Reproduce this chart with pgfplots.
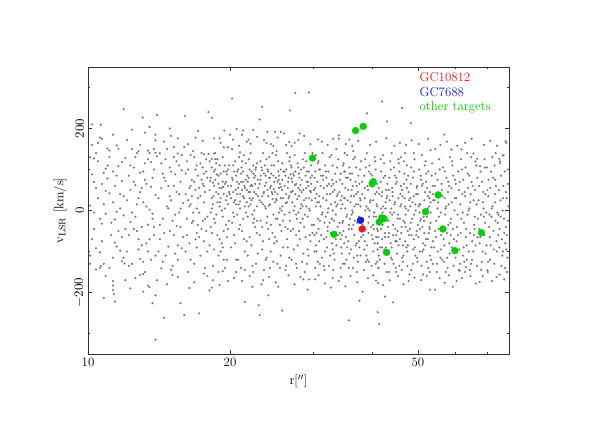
\documentclass[border=0pt]{standalone}
\usepackage{pgfplots}
\pgfplotsset{compat=1.18}
\definecolor{dotgray}{RGB}{120,120,120}
\definecolor{tgreen}{RGB}{0,205,0}
\definecolor{tblue}{RGB}{20,20,240}
\definecolor{tred}{RGB}{250,20,20}
\begin{document}
\begin{tikzpicture}
\useasboundingbox (-2.64,-2.07) rectangle (15.3,10.62);
\begin{axis}[
  at={(0,0)}, anchor=south west,
  scale only axis, width=12.63cm, height=8.61cm,
  xmode=log, xmin=10, xmax=78, ymin=-350, ymax=350,
  xtick={10,20,50}, xticklabels={10,20,50},
  minor xtick={30,40,60,70},
  ytick={-200,0,200}, minor ytick={-300,-100,100,300},
  tick align=inside, major tick length=0.13cm, minor tick length=0.07cm,
  axis line style={black!80}, every tick/.style={black!80},
  tick label style={font=\fontsize{11}{13}\selectfont},
  yticklabel style={rotate=90, anchor=south},
  label style={font=\fontsize{11}{13}\selectfont},
  xlabel={r[$^{\prime\prime}$]},
  ylabel={v$_{\rm LSR}$ [km/s]},
]
% field stars, band
\addplot[only marks, mark=*, mark size=0.7pt, dotgray] coordinates {
(10.1,12)(10.3,-45)(10.2,88)(10.4,140)(10.6,-102)(10.5,30)(10.7,65)(10.9,-8)(10.8,-130)(11.0,110)(11.2,-60)(11.1,42)(11.3,95)(11.4,-22)(11.6,150)(11.5,-88)(11.7,5)(11.8,72)(11.9,-115)(12.0,128)(10.2,-70)(10.4,55)(10.6,-20)(10.9,102)(11.1,-140)(11.3,20)(11.6,-50)(11.8,118)(10.3,-5)(10.7,-75)(11.0,78)(11.4,60)(11.7,-98)(11.9,35)(10.1,-110)(10.5,120)(10.8,15)(11.2,-30)(11.5,85)(11.8,-65)(10.3,70)(10.6,-140)(10.9,48)(11.3,-115)(11.6,108)(11.9,-12)(10.2,160)(10.7,-32)(11.1,130)(11.4,-78)(11.7,40)(12.0,-45)(10.4,-92)(10.8,92)(11.5,-3)
(12.1,25)(12.2,-60)(12.3,110)(12.4,-130)(12.5,70)(12.6,-15)(12.7,140)(12.8,-95)(12.9,45)(13.0,-40)(13.1,95)(13.2,-150)(13.3,10)(13.4,125)(13.5,-70)(13.6,58)(13.7,-20)(13.8,100)(13.9,-110)(12.2,85)(12.4,-5)(12.6,130)(12.8,30)(13.0,-85)(13.2,75)(13.4,-35)(13.6,118)(13.8,-60)(12.1,-100)(12.3,50)(12.5,-45)(12.7,15)(12.9,92)(13.1,-125)(13.3,65)(13.5,140)(13.7,-8)(13.9,38)(12.2,-135)(12.5,105)(12.8,-70)(13.1,20)(13.4,-100)(13.7,80)(12.3,-28)(12.6,62)(12.9,-118)(13.2,115)(13.5,2)(13.8,-40)(12.4,150)(12.7,-50)(13.0,55)(13.3,-80)(13.6,-120)
(14.1,30)(14.2,-70)(14.3,115)(14.4,-20)(14.5,80)(14.6,-110)(14.7,150)(14.8,5)(14.9,-50)(15.0,95)(15.1,-135)(15.2,60)(15.3,-10)(15.4,120)(15.5,-85)(15.6,40)(15.7,-40)(15.8,135)(15.9,18)(14.1,-100)(14.3,55)(14.5,-55)(14.7,10)(14.9,105)(15.1,-25)(15.3,88)(15.5,-120)(15.7,70)(15.9,-65)(14.2,140)(14.4,-125)(14.6,72)(14.8,-88)(15.0,25)(15.2,-60)(15.4,45)(15.6,-5)(15.8,98)(14.2,-35)(14.6,125)(15.0,-145)(15.4,-38)(15.8,-92)(14.4,90)(14.8,60)(15.2,130)(15.6,110)(14.9,35)(15.7,5)(15.3,-105)
(16.1,40)(16.2,-60)(16.3,100)(16.4,10)(16.5,-120)(16.6,75)(16.7,-25)(16.8,130)(16.9,50)(17.0,-90)(17.1,85)(17.2,-5)(17.3,115)(17.4,-45)(17.5,65)(17.6,20)(17.7,-140)(17.8,95)(17.9,-15)(16.1,-100)(16.3,25)(16.5,60)(16.7,145)(16.9,-70)(17.1,30)(17.3,-110)(17.5,105)(17.7,45)(17.9,80)(16.2,120)(16.4,-80)(16.6,-30)(16.8,70)(17.0,5)(17.2,55)(17.4,140)(17.6,-75)(17.8,-50)(16.1,90)(16.4,55)(16.7,-5)(17.0,110)(17.3,35)(17.6,90)(17.9,-100)(16.2,-20)(16.5,15)(16.8,-130)(17.1,-35)(17.4,75)(17.7,-20)(16.3,-150)(16.6,35)(16.9,100)(17.2,-65)(17.5,-25)(17.8,125)(16.5,135)(17.0,-55)(17.6,60)
(18.1,50)(18.2,-40)(18.3,105)(18.4,15)(18.5,-95)(18.6,75)(18.7,-10)(18.8,125)(18.9,40)(19.0,-70)(19.1,90)(19.2,0)(19.3,130)(19.4,-50)(19.5,65)(19.6,25)(19.7,-120)(19.8,100)(19.9,-25)(18.1,-85)(18.2,80)(18.3,30)(18.4,-135)(18.5,60)(18.6,-30)(18.7,115)(18.8,-60)(18.9,85)(19.0,10)(19.1,-100)(19.2,55)(19.3,-15)(19.4,95)(19.5,-140)(19.6,70)(19.7,35)(19.8,-45)(19.9,110)(18.1,120)(18.3,-55)(18.5,95)(18.7,45)(18.9,-110)(19.1,30)(19.3,70)(19.5,5)(19.7,-65)(19.9,45)(18.2,-5)(18.4,68)(18.6,140)(18.8,20)(19.0,110)(19.2,-80)(19.4,40)(19.6,-35)(19.8,60)(18.5,-20)(18.9,-150)(19.3,-90)(19.7,88)(18.6,100)(19.0,55)(19.4,-120)(19.8,15)
(20.1,60)(20.2,-30)(20.3,110)(20.4,20)(20.5,-80)(20.6,85)(20.7,40)(20.8,-120)(20.9,130)(21.0,5)(21.1,70)(21.2,-50)(21.3,95)(21.4,30)(21.5,-100)(21.6,115)(21.7,50)(21.8,-15)(21.9,80)(22.0,-65)(22.1,140)(22.2,25)(22.3,-135)(22.4,90)(22.5,45)(22.6,-40)(22.7,105)(22.8,10)(22.9,75)(20.1,-90)(20.3,45)(20.5,120)(20.7,-10)(20.9,65)(21.1,-140)(21.3,35)(21.5,55)(21.7,-75)(21.9,125)(22.1,15)(22.3,60)(22.5,-20)(22.7,40)(22.9,-105)(20.2,80)(20.4,-60)(20.6,15)(20.8,100)(21.0,-35)(21.2,50)(21.4,135)(21.6,-5)(21.8,70)(22.0,30)(22.2,-85)(22.4,110)(22.6,65)(22.8,-55)(20.2,150)(20.5,25)(20.8,55)(21.1,90)(21.4,-70)(21.7,20)(22.0,100)(22.3,-10)(22.6,85)(22.9,35)(20.3,-5)(20.6,-120)(20.9,-45)(21.2,120)(21.5,10)(21.8,-110)(22.1,60)(22.4,-30)(22.7,-130)(20.4,95)(20.7,70)(21.0,40)(21.3,-20)(21.6,75)(21.9,45)(22.2,95)(22.5,0)(22.8,115)(20.6,-150)(21.5,-145)(22.4,-150)(21.0,142)
(23.1,65)(23.2,-25)(23.3,105)(23.4,35)(23.5,-75)(23.6,90)(23.7,10)(23.8,-120)(23.9,125)(24.0,50)(24.1,-45)(24.2,80)(24.3,15)(24.4,-100)(24.5,110)(24.6,40)(24.7,-10)(24.8,70)(24.9,-65)(25.0,135)(25.1,25)(25.2,-130)(25.3,95)(25.4,55)(25.5,-35)(25.6,100)(25.7,0)(25.8,75)(25.9,-90)(23.1,-60)(23.3,20)(23.5,140)(23.7,60)(23.9,-30)(24.1,95)(24.3,-140)(24.5,45)(24.7,85)(24.9,20)(25.1,-75)(25.3,120)(25.5,65)(25.7,-50)(25.9,30)(23.2,120)(23.4,-95)(23.6,45)(23.8,5)(24.0,-15)(24.2,130)(24.4,60)(24.6,-55)(24.8,110)(25.0,-20)(25.2,40)(25.4,85)(25.6,-110)(25.8,10)(23.2,75)(23.6,-145)(24.0,100)(24.4,-35)(24.8,-80)(25.2,70)(25.6,30)(23.4,-40)(23.8,85)(24.2,-70)(24.6,140)(25.0,80)(25.4,-5)(25.8,115)(23.5,15)(23.9,-115)(24.3,55)(24.7,-125)(25.1,145)(25.5,-140)(25.9,-25)(24.1,35)
(26.1,60)(26.2,-40)(26.3,100)(26.4,20)(26.5,-90)(26.6,80)(26.7,-5)(26.8,130)(26.9,45)(27.0,-120)(27.2,90)(27.4,10)(27.6,-60)(27.8,115)(28.0,35)(28.2,-30)(28.4,75)(28.6,-105)(28.8,140)(29.0,55)(29.2,-15)(29.4,95)(29.6,-75)(29.8,25)(26.1,-10)(26.3,-135)(26.5,55)(26.7,120)(26.9,-50)(27.1,70)(27.3,-95)(27.5,40)(27.7,-20)(27.9,105)(28.1,-70)(28.3,15)(28.5,125)(28.7,-40)(28.9,85)(29.1,-130)(29.3,60)(29.5,0)(29.7,110)(29.9,-55)(26.2,85)(26.4,-70)(26.6,30)(26.8,-25)(27.0,105)(27.2,-45)(27.4,135)(27.6,65)(27.8,-85)(28.0,90)(28.2,5)(28.4,-125)(28.6,50)(28.8,-10)(29.0,120)(29.2,-95)(29.4,30)(29.6,80)(29.8,-35)(26.3,40)(26.7,-115)(27.1,20)(27.5,95)(27.9,-5)(28.3,100)(28.7,25)(29.1,70)(29.5,-60)(29.9,140)(26.5,-45)(26.9,110)(27.3,0)(27.7,-140)(28.1,50)(28.5,-20)(28.9,-65)(29.3,-110)(29.7,45)(26.4,140)(27.6,-130)(28.8,-150)(27.0,45)(28.0,-50)(29.0,10)(26.2,-145)
(30.1,50)(30.2,-60)(30.3,95)(30.4,10)(30.5,-100)(30.6,70)(30.7,-20)(30.8,120)(30.9,35)(31.0,-130)(31.2,85)(31.4,-5)(31.6,-70)(31.8,110)(32.0,25)(32.2,-40)(32.4,65)(32.6,-110)(32.8,135)(33.0,45)(33.2,-25)(33.4,90)(33.6,-85)(33.8,15)(30.1,-35)(30.3,-140)(30.5,40)(30.7,115)(30.9,-75)(31.1,60)(31.3,-115)(31.5,30)(31.7,-30)(31.9,95)(32.1,-90)(32.3,5)(32.5,130)(32.7,-55)(32.9,75)(33.1,-145)(33.3,50)(33.5,-10)(33.7,105)(33.9,-60)(30.2,80)(30.4,-85)(30.6,20)(30.8,-45)(31.0,100)(31.2,-60)(31.4,140)(31.6,55)(31.8,-100)(32.0,80)(32.2,-5)(32.4,-135)(32.6,40)(32.8,-20)(33.0,110)(33.2,-105)(33.4,20)(33.6,70)(33.8,-40)(30.3,30)(30.7,-125)(31.1,10)(31.5,85)(31.9,-15)(32.3,95)(32.7,15)(33.1,65)(33.5,-70)(33.9,125)(30.5,-55)(30.9,100)(31.3,-10)(31.7,-145)(32.1,40)(32.5,-30)(32.9,-80)(33.3,-120)(33.7,35)(30.4,135)(31.6,-135)(32.8,60)(31.0,-25)(32.0,-65)(33.0,0)(30.2,-100)(33.6,150)
(34.1,45)(34.2,-55)(34.3,90)(34.4,5)(34.5,-105)(34.6,65)(34.7,-25)(34.8,115)(34.9,30)(35.0,-130)(35.2,80)(35.4,-10)(35.6,-75)(35.8,105)(36.0,20)(36.2,-45)(36.4,60)(36.6,-115)(36.8,130)(37.0,40)(37.2,-30)(37.4,85)(37.6,-90)(37.8,10)(34.1,-30)(34.3,-140)(34.5,35)(34.7,110)(34.9,-80)(35.1,55)(35.3,-120)(35.5,25)(35.7,-35)(35.9,90)(36.1,-95)(36.3,0)(36.5,125)(36.7,-60)(36.9,70)(37.1,-150)(37.3,45)(37.5,-15)(37.7,100)(37.9,-65)(34.2,75)(34.4,-90)(34.6,15)(34.8,-50)(35.0,95)(35.2,-65)(35.4,135)(35.6,50)(35.8,-105)(36.0,75)(36.2,-10)(36.4,-140)(36.6,35)(36.8,-25)(37.0,105)(37.2,-110)(37.4,15)(37.6,65)(37.8,-45)(34.3,25)(34.7,-130)(35.1,5)(35.5,80)(35.9,-20)(36.3,90)(36.7,10)(37.1,60)(37.5,-75)(37.9,120)(34.5,-60)(34.9,95)(35.3,-15)(35.7,-140)(36.1,35)(36.5,-35)(36.9,-85)(37.3,-125)(37.7,30)(35.0,140)(36.5,145)
(38.1,40)(38.3,-60)(38.5,85)(38.7,0)(38.9,-110)(39.1,60)(39.3,-30)(39.5,110)(39.7,25)(39.9,-135)(40.1,75)(40.3,-15)(40.5,-80)(40.7,100)(40.9,15)(41.1,-50)(41.3,55)(41.5,-120)(41.7,125)(41.9,35)(42.1,-35)(42.3,80)(42.5,-95)(42.7,5)(42.9,-150)(38.2,-35)(38.4,-145)(38.6,30)(38.8,105)(39.0,-85)(39.2,50)(39.4,-125)(39.6,20)(39.8,-40)(40.0,85)(40.2,-100)(40.4,-5)(40.6,120)(40.8,-65)(41.0,65)(41.2,-140)(41.4,40)(41.6,-20)(41.8,95)(42.0,-70)(42.2,10)(42.4,115)(42.6,-55)(42.8,50)(38.1,70)(38.5,-95)(38.9,10)(39.3,-55)(39.7,90)(40.1,-70)(40.5,130)(40.9,45)(41.3,-110)(41.7,70)(42.1,-5)(42.5,-130)(42.9,30)(38.3,-20)(38.7,125)(39.1,-120)(39.5,0)(39.9,70)(40.3,-45)(40.7,-130)(41.1,-80)(41.1,-95)(41.2,-65)(41.0,-125)(41.3,-140)(41.6,-90)(42.0,45)(42.4,-25)(42.8,-90)(38.6,-75)(39.4,95)(40.2,25)(41.0,10)(41.8,-45)(42.6,85)(39.0,140)(40.8,-15)(42.2,135)(38.8,-125)
(43.1,35)(43.3,-65)(43.5,80)(43.7,-5)(43.9,-115)(44.1,55)(44.3,-35)(44.5,105)(44.7,20)(44.9,-140)(45.1,70)(45.3,-20)(45.5,-85)(45.7,95)(45.9,10)(46.1,-55)(46.3,50)(46.5,-125)(46.7,120)(46.9,30)(47.1,-40)(47.3,75)(47.5,-100)(47.7,0)(47.9,-60)(43.2,-40)(43.4,-150)(43.6,25)(43.8,100)(44.0,-90)(44.2,45)(44.4,-130)(44.6,15)(44.8,-45)(45.0,80)(45.2,-105)(45.4,-10)(45.6,115)(45.8,-70)(46.0,60)(46.2,-145)(46.4,35)(46.6,-25)(46.8,90)(47.0,-75)(47.2,5)(47.4,110)(47.6,-50)(47.8,45)(43.1,65)(43.5,-100)(43.9,5)(44.3,-60)(44.7,85)(45.1,-75)(45.5,125)(45.9,40)(46.3,-115)(46.7,65)(47.1,-10)(47.5,-135)(47.9,25)(43.3,-25)(43.7,120)(44.1,-120)(44.5,-5)(44.9,65)(45.3,-50)(45.7,-135)(46.1,15)(46.5,-85)(46.9,-30)(47.3,-90)(47.7,85)(44.0,140)(46.0,130)(45.0,-150)(47.0,140)(43.8,-80)
(48.2,30)(48.5,-60)(48.8,80)(49.1,-10)(49.4,-110)(49.7,55)(50.0,-35)(50.3,100)(50.6,15)(50.9,-135)(51.2,65)(51.5,-25)(51.8,-85)(52.1,90)(52.4,5)(52.7,-55)(53.0,45)(53.3,-120)(53.6,115)(53.9,25)(48.1,-45)(48.4,-145)(48.7,20)(49.0,95)(49.3,-90)(49.6,40)(49.9,-125)(50.2,10)(50.5,-45)(50.8,75)(51.1,-100)(51.4,-15)(51.7,110)(52.0,-70)(52.3,55)(52.6,-140)(52.9,30)(53.2,-30)(53.5,85)(53.8,-75)(48.3,65)(48.9,-95)(49.5,0)(50.1,-65)(50.7,85)(51.3,-80)(51.9,120)(52.5,35)(53.1,-110)(53.7,60)(48.6,-20)(49.2,125)(49.8,-115)(50.4,-5)(51.0,60)(51.6,-55)(52.2,-125)(52.8,10)(53.4,-90)(48.4,105)(49.6,-60)(50.8,-20)(52.0,70)(53.2,-5)(49.0,140)(51.0,135)(53.0,-150)(48.8,-130)(50.0,40)(52.6,95)(51.6,25)(49.4,15)(52.9,-40)(50.5,-100)(53.8,-130)
(54.2,25)(54.6,-65)(55.0,75)(55.4,-15)(55.8,-115)(56.2,50)(56.6,-40)(57.0,95)(57.4,10)(57.8,-140)(58.2,60)(58.6,-30)(59.0,-90)(59.4,85)(59.8,0)(54.4,-50)(54.8,-150)(55.2,20)(55.6,100)(56.0,-95)(56.4,35)(56.8,-125)(57.2,5)(57.6,-55)(58.0,70)(58.4,-105)(58.8,-20)(59.2,110)(59.6,-70)(54.3,60)(55.1,-100)(55.9,-5)(56.7,-70)(57.5,80)(58.3,-80)(59.1,120)(59.9,30)(54.7,-25)(55.5,125)(56.3,-120)(57.1,-10)(57.9,45)(58.7,-60)(59.5,-135)(54.5,90)(55.7,40)(56.9,-85)(58.1,15)(59.3,-45)(54.9,-130)(56.5,105)(58.5,130)(57.3,-150)(55.3,-45)(56.1,65)(57.7,-115)(58.9,55)(59.7,-100)(54.1,-90)(55.0,5)(56.0,-60)(57.0,30)(58.0,-35)(59.0,20)(59.9,75)
(60.3,30)(60.8,-60)(61.3,70)(61.8,-20)(62.3,-110)(62.8,45)(63.3,-45)(63.8,90)(64.3,5)(64.8,-130)(65.3,60)(65.8,-35)(66.3,-85)(66.8,80)(60.5,-40)(61.0,-145)(61.5,15)(62.0,100)(62.5,-90)(63.0,35)(63.5,-120)(64.0,0)(64.5,-55)(65.0,70)(65.5,-100)(66.0,-15)(66.5,110)(60.2,65)(61.2,-95)(62.2,-5)(63.2,-65)(64.2,85)(65.2,-75)(66.2,120)(60.7,-10)(61.7,125)(62.7,-125)(63.7,-10)(64.7,40)(65.7,-60)(66.7,-135)(60.9,95)(62.1,40)(63.4,-85)(64.6,20)(65.9,-45)(61.4,-130)(63.1,105)(64.9,130)(66.1,50)(60.4,-75)(62.6,-30)(64.1,-100)(65.6,25)(66.6,15)(61.1,50)(63.9,55)(62.4,75)(65.1,-120)(60.1,-115)(66.9,-65)(63.6,140)(64.4,-145)(61.6,-55)(62.9,-150)
(67.2,25)(67.8,-65)(68.4,70)(69.0,-15)(69.6,-105)(70.2,50)(70.8,-40)(71.4,95)(72.0,10)(72.6,-130)(73.2,60)(73.8,-30)(74.4,-90)(75.0,85)(75.6,0)(76.2,-55)(76.8,45)(77.4,-115)(67.5,-45)(68.1,-145)(68.7,20)(69.3,105)(69.9,-85)(70.5,35)(71.1,-120)(71.7,5)(72.3,-50)(72.9,75)(73.5,-100)(74.1,-10)(74.7,115)(75.3,-70)(75.9,60)(76.5,-140)(77.1,30)(77.7,-25)(67.4,60)(68.6,-100)(69.8,-5)(71.0,-65)(72.2,80)(73.4,-75)(74.6,120)(75.8,30)(77.0,-95)(68.0,-10)(69.2,125)(70.4,-125)(71.6,-15)(72.8,40)(74.0,-60)(75.2,-135)(76.4,95)(77.6,65)(67.9,95)(69.5,40)(71.3,-85)(72.9,20)(74.5,-45)(76.1,-20)(77.5,100)(68.3,-125)(70.0,105)(71.9,130)(73.7,-5)(75.5,-110)(77.2,-60)(67.6,-80)(69.4,-30)(71.2,55)(73.0,-25)(74.8,25)(76.6,-80)(68.9,5)(70.6,75)(72.5,-95)(74.3,50)(76.0,135)(77.8,10)(67.0,-20)(68.8,45)(70.9,-10)(72.7,110)(74.9,-15)(76.9,-40)(69.1,-60)(73.1,140)(75.7,-100)(77.3,-150)(70.3,-150)
};
% field stars, fringe of the band and the denser core
\addplot[only marks, mark=*, mark size=0.7pt, dotgray] coordinates {
(10.5,165)(11.3,185)(12.1,172)(12.9,160)(13.2,190)(14.5,168)(15.0,182)(16.3,162)(16.9,178)(17.5,170)(19.1,165)(20.0,185)(20.9,158)(21.7,168)(22.8,180)(23.6,172)(24.4,162)(25.2,178)(26.0,188)(26.3,160)(27.9,172)(28.7,182)(29.6,162)(31.3,168)(32.2,160)(33.1,175)(35.2,162)(36.3,158)(37.4,170)(39.6,160)(40.8,168)(44.6,158)(45.8,165)(47.2,160)(50.2,162)(52.6,175)(55.8,160)(57.6,168)(60.6,158)(63.0,165)(65.0,175)(69.0,160)(71.2,170)(73.6,158)(77.0,165)
(10.9,-160)(12.0,-170)(12.6,-165)(14.7,-180)(15.5,-162)(16.8,-175)(17.9,-160)(19.0,-182)(20.4,-165)(21.2,-172)(22.0,-160)(23.3,-180)(24.2,-162)(25.0,-175)(26.6,-158)(27.4,-180)(28.2,-162)(30.8,-158)(31.8,-178)(33.0,-165)(36.0,-160)(37.2,-175)(39.2,-165)(40.2,-158)(42.2,-182)(43.6,-170)(45.4,-160)(46.6,-180)(47.8,-172)(50.8,-170)(52.2,-160)(55.6,-165)(58.2,-158)(60.4,-172)(62.0,-165)(64.6,-160)(66.4,-178)(68.6,-160)(71.8,-172)(73.4,-162)(76.2,-168)
(18.15,72)(18.45,35)(18.75,88)(19.05,20)(19.35,58)(19.65,95)(19.95,40)(20.25,75)(20.55,50)(20.85,15)(21.15,105)(21.45,60)(21.75,85)(22.05,45)(22.35,30)(22.65,100)(22.95,55)(23.25,85)(23.55,42)(23.85,68)(24.15,12)(24.45,90)(24.75,52)(25.05,28)(25.35,75)(25.65,58)(25.95,95)(26.25,18)(26.55,70)(26.85,88)(27.15,48)(27.45,62)(27.75,28)(28.05,80)(28.35,45)(28.65,105)(28.95,30)(29.25,70)(29.55,48)(29.85,85)(30.3,55)(30.9,20)(31.5,75)(32.1,60)(18.3,5)(18.9,65)(19.5,110)(20.1,30)(20.7,95)(21.3,70)(21.9,10)(22.5,80)(23.1,25)(23.7,110)(24.3,80)(24.9,45)(25.5,5)(26.1,95)(26.7,35)(27.3,85)(27.9,55)(28.5,10)(29.1,95)(29.7,65)(21.0,22)(22.2,62)(23.4,98)(24.6,28)(25.8,50)(27.0,78)(28.2,62)(29.4,5)(20.4,-15)(22.8,-25)(25.2,-20)(27.6,-10)
(32.2,-50)(32.9,-20)(33.6,10)(34.3,-70)(35.0,30)(35.7,-45)(36.4,-5)(37.1,-80)(37.8,25)(38.5,-40)(39.2,5)(39.9,-60)(40.6,40)(41.3,-25)(42.0,-90)(42.7,20)(43.4,-55)(44.1,-10)(44.8,-75)(45.5,30)(46.2,-40)(46.9,10)(47.6,-85)(48.3,-30)(49.0,35)(49.7,-50)(50.4,15)(51.1,-40)(51.8,45)(52.5,-70)(53.2,20)(33.0,-95)(34.6,-30)(36.2,50)(37.8,-110)(39.4,-15)(41.0,-45)(42.6,-65)(44.2,35)(45.8,-20)(47.4,55)(49.0,-70)(50.6,-25)(52.2,-15)(53.8,40)(33.8,40)(35.4,-90)(37.0,15)(38.6,55)(40.2,-35)(41.8,5)(43.4,50)(45.0,-60)(46.6,-110)(48.2,10)(49.8,60)(51.4,-95)(53.0,-45)
};
% field stars, outliers
\addplot[only marks, mark=*, mark size=0.7pt, dotgray] coordinates {
(20.2,273)(11.9,247)(10.2,210)(10.64,209)(14.0,233)(13.06,227)(16.05,230)(18.0,240)(18.3,226)(13.5,204)(12.4,197)(14.9,200)(17.1,194)(19.45,195)(20.66,199)(21.3,195)(22.4,197)(10.6,178)(10.7,175)(13.9,185)(13.9,171)(15.5,176)(18.5,176)(19.0,176)(20.3,173)(21.2,185)(21.9,173)(22.1,163)(11.0,151)(11.1,146)(11.5,159)(12.8,145)(13.4,146)(13.8,150)(13.9,141)(14.0,132)(15.2,155)(15.5,139)(16.0,155)(17.6,137)(18.0,138)(18.5,139)(18.6,125)(18.3,126)(19.4,154)(19.8,154)(10.1,130)(10.3,127)
(27.5,287)(29.4,288)(26.8,244)(23.4,253)(23.1,222)(24.0,192)(24.9,192)(25.6,192)(28.1,188)(30.7,173)(34.0,183)(34.0,175)(35.8,173)(39.0,237)(42.0,266)(43.0,217)(46.3,250)(48.3,213)(42.9,176)(48.5,171)(56.9,185)(53.2,147)(54.4,150)(58.9,149)(61.9,149)(65.6,139)(76.7,169)(74.4,126)(75.7,134)(66.8,126)(67.7,108)(26.7,167)(27.0,157)(27.4,165)(23.9,165)(24.7,157)
(13.9,-315)(14.5,-262)(16.0,-255)(17.2,-251)(15.7,-226)(13.7,-226)(13.9,-207)(12.3,-190)(11.3,-172)(11.3,-183)(11.3,-194)(11.35,-204)(11.4,-222)(10.8,-213)(13.4,-183)(13.5,-187)(13.1,-198)(12.9,-157)(13.1,-155)(16.4,-189)(18.1,-195)(18.3,-188)(21.5,-223)(22.3,-186)(23.0,-231)(14.3,-141)(15.1,-157)(14.0,-170)(19.3,-148)(19.8,-172)(17.6,-154)(18.4,-170)(10.4,-144)(10.65,-135)(10.1,-130)(11.8,-124)(11.95,-129)
(23.1,-255)(25.8,-244)(24.1,-207)(35.7,-268)(37.6,-220)(38.2,-198)(41.1,-248)(41.4,-277)(42.6,-210)(44.3,-224)(40.8,-171)(41.2,-177)(53.0,-193)(54.4,-193)(57.0,-176)(59.3,-186)(67.6,-174)(23.5,-170)(29.2,-193)(32.7,-188)(35.1,-185)(28.6,-168)(29.4,-168)(30.3,-168)(34.0,-172)(34.4,-162)(25.3,-186)(61.3,-147)(63.2,-138)(74.5,-156)(70.2,-146)(49.2,-164)(48.0,-156)(51.3,-156)
};
% other targets
\addplot[only marks, mark=*, mark size=2.9pt, tgreen] coordinates {
(36.9,195)(38.3,205)(29.9,128)(40.0,65)(40.2,70)(55.2,38)(33.2,-58)(41.9,-18)(42.4,-20)(41.4,-28)(42.9,-102)(51.9,-3)(56.5,-45)(59.9,-98)(68.2,-54)
};
\addplot[only marks, mark=*, mark size=2.9pt, tblue] coordinates {(37.8,-24)};
\addplot[only marks, mark=*, mark size=2.9pt, tred] coordinates {(38.1,-45)};
\node[anchor=west, text=tred, font=\fontsize{11}{13}\selectfont] at (rel axis cs:0.778,0.965) {GC10812};
\node[anchor=west, text=tblue, font=\fontsize{11}{13}\selectfont] at (rel axis cs:0.778,0.912) {GC7688};
\node[anchor=west, text=tgreen, font=\fontsize{11}{13}\selectfont] at (rel axis cs:0.778,0.86) {other targets};
\end{axis}
\end{tikzpicture}
\end{document}
